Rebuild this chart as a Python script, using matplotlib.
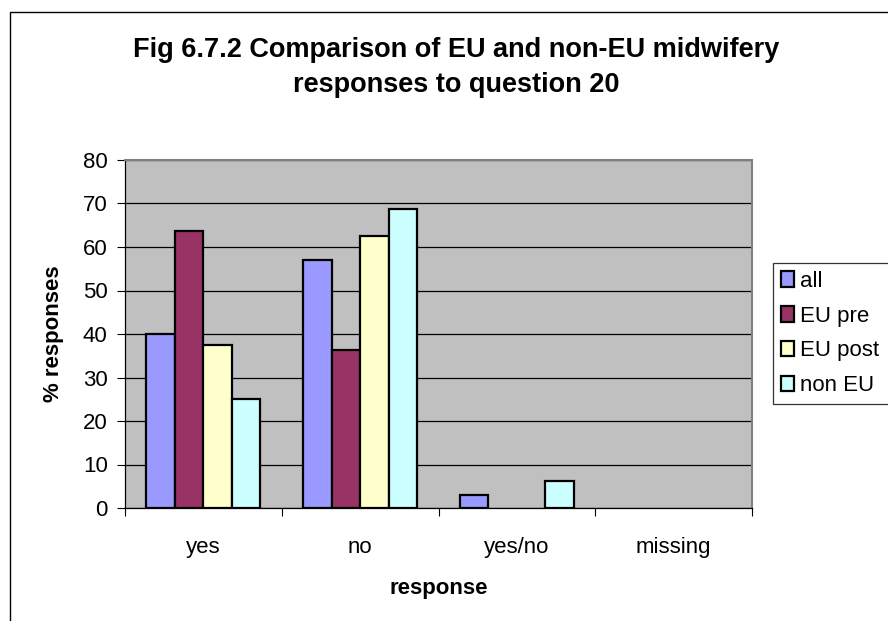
import matplotlib
matplotlib.use("Agg")
import matplotlib.pyplot as plt
import numpy as np
from matplotlib.patches import Rectangle

plt.rcParams['font.family'] = ['Liberation Sans', 'DejaVu Sans']

categories = ["yes", "no", "yes/no", "missing"]
series_names = ["all", "EU pre", "EU post", "non EU"]
all_vals = [40.0, 57.1, 2.9, 0]
eu_pre = [63.6, 36.4, 0, 0]
eu_post = [37.5, 62.5, 0, 0]
non_eu = [25.0, 68.75, 6.25, 0]
colors = ["#9999FF", "#993366", "#FFFFCC", "#CCFFFF"]

W, H = 888, 621
fig = plt.figure(figsize=(W / 100, H / 100), dpi=100)
fig.patch.set_facecolor("white")
# outer chart frame (extends beyond right/bottom edge)
fig.add_artist(Rectangle((10 / W, -0.05), 1.2, 1.05 - 12 / H, transform=fig.transFigure,
                         fill=False, edgecolor="black", linewidth=1))

ax = fig.add_axes([125 / W, (H - 508) / H, 627 / W, 348 / H])
ax.set_facecolor("#C0C0C0")

x = np.arange(len(categories))
bw = 1 / 5.5
data = [all_vals, eu_pre, eu_post, non_eu]
for i, (vals, c, name) in enumerate(zip(data, colors, series_names)):
    bars = ax.bar(x + (i - 1.5) * bw, vals, width=bw, color=c, edgecolor="black",
                  linewidth=1.6, label=name, zorder=3)
    for b, v in zip(bars, vals):
        if v == 0:
            b.set_visible(False)

ax.set_xlim(-0.5, len(categories) - 0.5)
ax.set_ylim(0, 80)
ax.set_yticks(range(0, 81, 10))
ax.yaxis.grid(True, color="black", linewidth=0.9, zorder=1)
ax.set_axisbelow(True)
ax.set_xticks(x)
ax.set_xticklabels(categories)
ax.set_xticks(np.arange(-0.5, len(categories), 1), minor=True)
ax.tick_params(axis="x", which="major", length=0, pad=21, labelsize=16)
ax.tick_params(axis="x", which="minor", length=5.5, direction="out", width=0.8)
ax.tick_params(axis="y", length=5.5, direction="out", labelsize=16, width=0.8, pad=7)
for s in ["top", "right"]:
    ax.spines[s].set_color("#808080")
    ax.spines[s].set_linewidth(1.5)
for s in ["left", "bottom"]:
    ax.spines[s].set_color("black")
    ax.spines[s].set_linewidth(0.9)

ax.set_xlabel("response", fontsize=16, fontweight="bold")
ax.xaxis.set_label_coords(0.5, -0.201)
ax.set_ylabel("% responses", fontsize=16, fontweight="bold")
ax.yaxis.set_label_coords(-0.098, 0.5)

fig.text(456 / W, 1 - 57 / H, "Fig 6.7.2 Comparison of EU and non-EU midwifery",
         ha="center", va="baseline", fontsize=19.5, fontweight="bold")
fig.text(456 / W, 1 - 92 / H, "responses to question 20",
         ha="center", va="baseline", fontsize=19.5, fontweight="bold")

leg = ax.legend(loc="upper left", bbox_to_anchor=(773 / W, 1 - 404 / H, 135 / W, 141 / H),
                bbox_transform=fig.transFigure, mode="expand", frameon=True,
                fancybox=False, edgecolor="black", fontsize=16, handlelength=0.6,
                handleheight=0.7, handletextpad=0.25, borderpad=0.35, labelspacing=0.62,
                borderaxespad=0)
leg.get_frame().set_linewidth(0.9)
for h in leg.legend_handles:
    h.set_linewidth(1.6)

fig.savefig("out.png", dpi=100)
